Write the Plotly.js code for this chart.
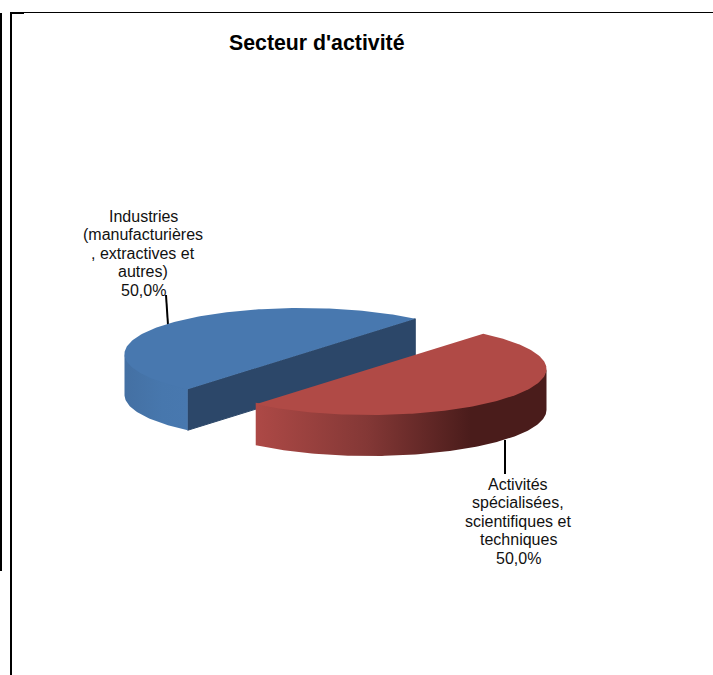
<!DOCTYPE html>
<html>
<head>
<meta charset="utf-8">
<script src="https://cdn.plot.ly/plotly-3.0.1.min.js"></script>
<style>html,body{margin:0;padding:0;background:#fff}#chart{width:713px;height:675px}</style>
</head>
<body>
<div id="chart"></div>
<script>
// Data
const categories = [
  ["Industries", "(manufacturières", ", extractives et", "autres)"],
  ["Activités", "spécialisées,", "scientifiques et", "techniques"]
];
const values = [50, 50];
const chartTitle = "Secteur d'activité";

// Pie projection styling (3D look): ellipse radii, depth and slice centres in plot units
const RX = 177, RY = 46, DEPTH = 41, START_DEG = -50;
const CENTERS = [[301.5, 354], [369.5, 369]];
const TOP_COLORS = ["#4878AF", "#B04A46"];
const CUT_COLOR = "#2C4769";
const SIDE_SCALES = [
  [[0, "#4470A3"], [0.6, "#4777AD"], [1, "#4878AF"]],
  [[0, "#AD4946"], [0.38, "#843836"], [0.74, "#4A1C1B"], [1, "#4A1C1B"]]
];
const LABEL_POS = [[143, 216.5], [518, 484.5]];
const LABEL_STEP = 18.4;
const LEADERS = [[[166, 295], [168, 325]], [[505, 440], [505, 474]]];

const total = values.reduce((a, b) => a + b, 0);
const rad = d => d * Math.PI / 180;
const pt = (c, deg, dz) => [c[0] + RX * Math.cos(rad(deg)), c[1] + RY * Math.sin(rad(deg)) + (dz || 0)];

// Slices run from START_DEG, going counter-clockwise on screen (decreasing angle)
function arc(c, from, to, dz) {
  const n = Math.max(2, Math.ceil(Math.abs(to - from)));
  const out = [];
  for (let i = 0; i <= n; i++) out.push(pt(c, from + (to - from) * i / n, dz));
  return out;
}
function poly(points, extra) {
  return Object.assign({
    x: points.map(p => p[0]), y: points.map(p => p[1]),
    mode: "lines", type: "scatter", fill: "toself",
    line: {width: 0}, hoverinfo: "skip", showlegend: false
  }, extra);
}
// Visible part of the rim: angles whose sine is positive (front of the ellipse)
function frontRange(a0, a1) {
  const hi = Math.max(a0, a1), lo = Math.min(a0, a1);
  for (let k = -2; k <= 2; k++) {
    const wLo = Math.max(lo, k * 360), wHi = Math.min(hi, k * 360 + 180);
    if (wHi > wLo) return [wHi, wLo];
  }
  return null;
}

const traces = [];
LEADERS.forEach(seg => traces.push({
  x: seg.map(p => p[0]), y: seg.map(p => p[1]), mode: "lines", type: "scatter",
  line: {color: "#000", width: 2}, hoverinfo: "skip", showlegend: false
}));

let angle = START_DEG;
values.forEach((v, i) => {
  const c = CENTERS[i];
  const a0 = angle, a1 = angle - 360 * v / total;
  angle = a1;
  // flat cut face visible on the first slice only
  if (i === 0) {
    const p0 = pt(c, a0), p1 = pt(c, a1);
    traces.push(poly([p0, p1, pt(c, a1, DEPTH), pt(c, a0, DEPTH), p0],
      {fillcolor: CUT_COLOR, line: {width: 1, color: CUT_COLOR}}));
  }
  // outer rim, tucked slightly under the top face to avoid a seam
  const r = frontRange(a0, a1);
  if (r) {
    const rim = arc(c, r[0], r[1], -1.5).concat(arc(c, r[1], r[0], DEPTH));
    rim.push(rim[0]);
    const xs = rim.map(p => p[0]);
    traces.push(poly(rim, {
      fillgradient: {type: "horizontal", start: Math.min(...xs), stop: Math.max(...xs),
        colorscale: SIDE_SCALES[i]}
    }));
  }
  // top face
  const top = arc(c, a0, a1, 0);
  top.push(top[0]);
  traces.push(poly(top, {fillcolor: TOP_COLORS[i]}));
});

const annotations = [{
  text: "<b>" + chartTitle + "</b>", x: 317, y: 43, xref: "x", yref: "y",
  xanchor: "center", yanchor: "middle", showarrow: false,
  font: {family: "Liberation Sans", size: 21.3, color: "#000"}
}];
categories.forEach((lines, i) => {
  const pct = (100 * values[i] / total).toFixed(1).replace(".", ",") + "%";
  lines.concat([pct]).forEach((line, k) => annotations.push({
    text: line, x: LABEL_POS[i][0], y: LABEL_POS[i][1] + k * LABEL_STEP, xref: "x", yref: "y",
    xanchor: "center", yanchor: "middle", align: "center", showarrow: false,
    font: {family: "Liberation Sans", size: 16, color: "#111"}
  }));
});

const blackRect = (x0, y0, x1, y1) => ({
  type: "rect", xref: "x", yref: "y", x0, y0, x1, y1,
  fillcolor: "#000", line: {width: 0}, layer: "above"
});

Plotly.newPlot("chart", traces, {
  width: 713, height: 675,
  margin: {l: 0, r: 0, t: 0, b: 0},
  paper_bgcolor: "#fff", plot_bgcolor: "#fff",
  xaxis: {range: [0, 713], visible: false, fixedrange: true},
  yaxis: {range: [675, 0], visible: false, fixedrange: true},
  showlegend: false,
  annotations,
  shapes: [
    blackRect(0, 13, 2, 571),
    blackRect(10, 12, 12, 675),
    blackRect(10, 12, 713, 13),
    blackRect(10, 12, 24, 14)
  ]
}, {staticPlot: true, displayModeBar: false});
</script>
</body>
</html>
